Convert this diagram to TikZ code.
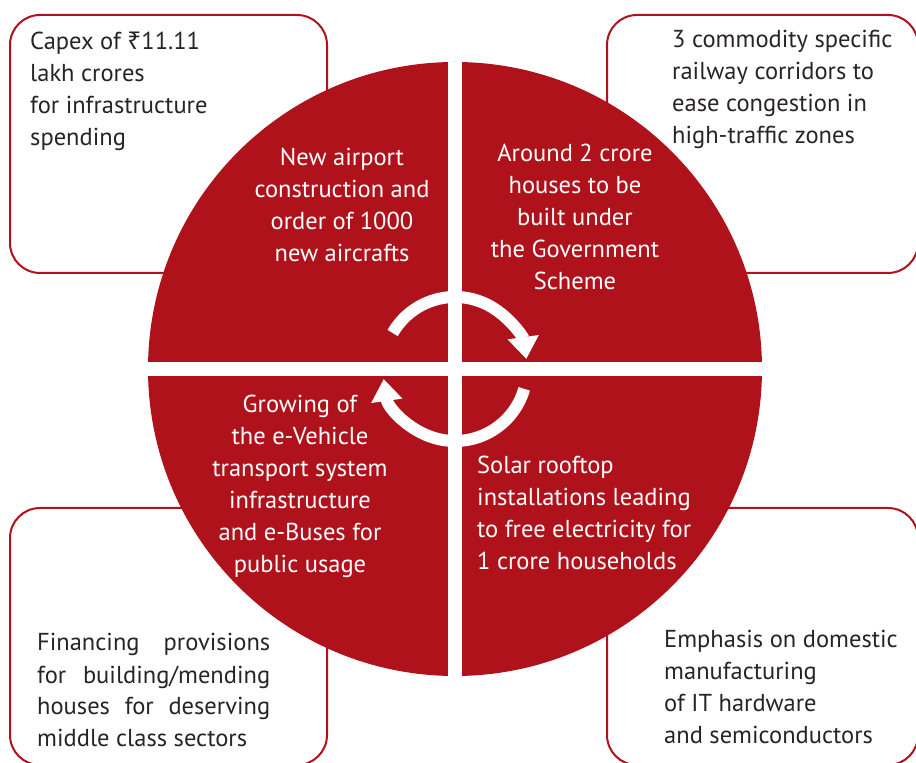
\documentclass[tikz,border=0pt]{standalone}
\usepackage{fontspec}
\setmainfont{PT Sans}
\newfontfamily\rupiafont{Noto Sans}
\usepackage{xcolor}
\usetikzlibrary{arrows.meta, positioning}
\definecolor{BudgetRed}{RGB}{176,18,27}
\definecolor{TextGrey}{RGB}{40,36,37}
\tikzset{
  >=latex,
  % Riquadri esterni
  infobox/.style={draw=BudgetRed,line width=2pt,rounded corners=30pt,minimum width=317pt,minimum height=258pt,inner sep=0pt},
  box text/.style={font=\fontsize{24.5}{32}\selectfont,text=TextGrey,align=left,inner sep=0pt,anchor=base west},
  % Cerchio centrale
  hub disc/.style={circle,fill=BudgetRed,minimum size=614pt,inner sep=0pt},
  hub text/.style={font=\fontsize{24.5}{32}\selectfont,text=white,align=center,inner sep=0pt,anchor=base},
  gap band/.style={white,line width=14pt},
  cycle arrow/.style={-{Triangle[width=30pt,length=22pt]},white,line width=12pt}
}

\begin{document}
\begin{tikzpicture}[x=1pt,y=1pt]
  \useasboundingbox (0,0) rectangle (916,763);
  \clip (0,0) rectangle (916,763);
  \node[infobox] (capex) at (168.5,619) {};
  \node[infobox,minimum width=311pt] (rail) at (762.5,619) {};
  \node[infobox,minimum height=257pt] (housing) at (168.5,126.5) {};
  \node[infobox,minimum width=311pt,minimum height=257pt] (hardware) at (762.5,126.5) {};
  \node[box text] (capex text) at (30,617) {Capex of {\rupiafont ₹}11.11\\lakh crores\\for infrastructure\\spending};
  \node[box text] (rail text) at (672,619) {3 commodity specific\\railway corridors to\\ease congestion in\\high-traffic zones};
  \node[box text] (housing text) at (37,16) {\makebox[233pt][s]{Financing provisions}\\\makebox[233pt][s]{for building/mending}\\\makebox[233pt][s]{houses for deserving}\\middle class sectors};
  \node[box text] (hardware text) at (664,19) {Emphasis on domestic\\manufacturing\\of IT hardware\\and semiconductors};
  \node[hub disc] (hub) at (455,394) {};
  \draw[gap band] (hub.north) -- (hub.south);
  \draw[gap band] (hub.west) -- (hub.east);
  \node[hub text] (airport) at (342,501) {New airport\\construction and\\order of 1000\\new aircrafts};
  \node[hub text] (houses) at (575,473) {Around 2 crore\\houses to be\\built under\\the Government\\Scheme};
  \node[hub text] (evehicle) at (300,190) {Growing of\\the e-Vehicle\\transport system\\infrastructure\\and e-Buses for\\public usage};
  \node[hub text,align=left,anchor=base west] (solar) at (477,193) {Solar rooftop\\installations leading\\to free electricity for\\1 crore households};
  \draw[cycle arrow] ([shift={(150:72)}]hub.center) arc[start angle=150,end angle=8,radius=72];
  \draw[cycle arrow] ([shift={(-16:72)}]hub.center) arc[start angle=-16,end angle=-172,radius=72];
\end{tikzpicture}
\end{document}
